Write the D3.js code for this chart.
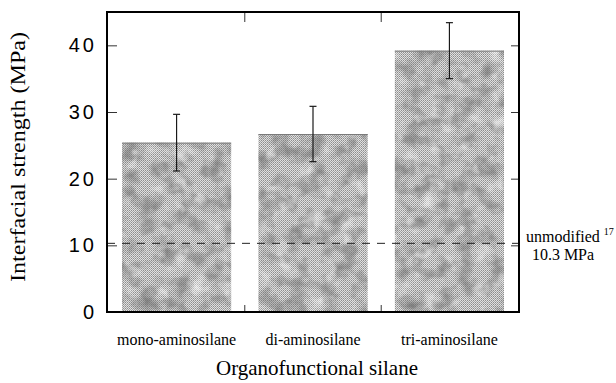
<!DOCTYPE html>
<html>
<head>
<meta charset="utf-8">
<script src="https://cdn.jsdelivr.net/npm/d3@7"></script>
<style>
  body { margin: 0; background: #fff; }
  svg { display: block; }
</style>
</head>
<body>
<div id="chart"></div>
<script>
const categories = ['mono-aminosilane', 'di-aminosilane', 'tri-aminosilane']
const strength = [25.4, 26.7, 39.2]
const errors = [4.25, 4.15, 4.2]
const yTicks = [0, 10, 20, 30, 40]
const reference = 10.3
const referenceLabel = ['unmodified', '17', '10.3 MPa']

const W = 616
const H = 383
const margin = { top: 12, right: 97, bottom: 71, left: 107 }
const width = W - margin.left - margin.right
const height = H - margin.top - margin.bottom

const svg = d3.select('#chart')
  .append('svg')
    .attr('width', W)
    .attr('height', H)

const defs = svg.append('defs')

// fine halftone dither
const pat = defs.append('pattern')
  .attr('id', 'dither')
  .attr('width', 2)
  .attr('height', 2)
  .attr('patternUnits', 'userSpaceOnUse')
pat.append('rect').attr('width', 2).attr('height', 2).attr('fill', '#e0e0e0')
pat.append('rect').attr('width', 1).attr('height', 1).attr('fill', '#8e8e8e')
pat.append('rect').attr('x', 1).attr('y', 1).attr('width', 1).attr('height', 1).attr('fill', '#a6a6a6')

// blotchy mottling on top of the dither
const filt = defs.append('filter')
  .attr('id', 'mottle')
  .attr('filterUnits', 'userSpaceOnUse')
  .attr('x', 0).attr('y', 0).attr('width', width).attr('height', height)
  .attr('color-interpolation-filters', 'sRGB')
filt.append('feTurbulence')
  .attr('type', 'fractalNoise')
  .attr('baseFrequency', 0.06)
  .attr('numOctaves', 3)
  .attr('seed', 11)
  .attr('result', 'noise')
filt.append('feColorMatrix')
  .attr('in', 'noise')
  .attr('type', 'matrix')
  .attr('values', '0 0 0 0 0.45  0 0 0 0 0.45  0 0 0 0 0.45  1.7 0 0 0 -0.72')
  .attr('result', 'dark')
filt.append('feColorMatrix')
  .attr('in', 'noise')
  .attr('type', 'matrix')
  .attr('values', '0 0 0 0 1  0 0 0 0 1  0 0 0 0 1  0 -1.7 0 0 0.7')
  .attr('result', 'light')
filt.append('feMerge')
  .call(m => {
    m.append('feMergeNode').attr('in', 'dark')
    m.append('feMergeNode').attr('in', 'light')
  })
  .attr('result', 'both')
filt.append('feComposite')
  .attr('in', 'both')
  .attr('in2', 'SourceAlpha')
  .attr('operator', 'in')

const g = svg.append('g')
  .attr('transform', `translate(${margin.left},${margin.top})`)

const x = d3.scaleBand()
  .domain(categories)
  .range([0, width])
  .paddingInner(0.2)
  .paddingOuter(0.11)

const y = d3.scaleLinear()
  .domain([0, 45])
  .range([height, 0])

// bars
const bars = g.append('g')
bars.selectAll('rect.bar')
  .data(categories)
  .join('rect')
    .attr('class', 'bar')
    .attr('x', d => x(d))
    .attr('y', (d, i) => y(strength[i]))
    .attr('width', x.bandwidth())
    .attr('height', (d, i) => y(0) - y(strength[i]))
    .attr('fill', 'url(#dither)')
const mottle = bars.append('g').attr('filter', 'url(#mottle)')
mottle.selectAll('rect')
  .data(categories)
  .join('rect')
    .attr('x', d => x(d))
    .attr('y', (d, i) => y(strength[i]))
    .attr('width', x.bandwidth())
    .attr('height', (d, i) => y(0) - y(strength[i]))
    .attr('fill', '#000')
bars.selectAll('line.top')
  .data(categories)
  .join('line')
    .attr('class', 'top')
    .attr('x1', d => x(d))
    .attr('x2', d => x(d) + x.bandwidth())
    .attr('y1', (d, i) => y(strength[i]) + 0.5)
    .attr('y2', (d, i) => y(strength[i]) + 0.5)
    .attr('stroke', '#7a7a7a')
    .attr('stroke-width', 1)

// reference dashed line
g.append('line')
  .attr('x1', 0)
  .attr('x2', width)
  .attr('y1', y(reference))
  .attr('y2', y(reference))
  .attr('stroke', '#222')
  .attr('stroke-width', 1)
  .attr('stroke-dasharray', '8,7')

// error bars
const cx = d => x(d) + x.bandwidth() / 2
const eb = g.append('g').attr('stroke', '#1a1a1a').attr('stroke-width', 1.2)
categories.forEach((c, i) => {
  const hi = y(strength[i] + errors[i])
  const lo = y(strength[i] - errors[i])
  eb.append('line').attr('x1', cx(c)).attr('x2', cx(c)).attr('y1', hi).attr('y2', lo)
  eb.append('line').attr('x1', cx(c) - 3.5).attr('x2', cx(c) + 3.5).attr('y1', hi).attr('y2', hi)
  eb.append('line').attr('x1', cx(c) - 3.5).attr('x2', cx(c) + 3.5).attr('y1', lo).attr('y2', lo)
})

// axes with inward ticks
const yLeft = g.append('g')
  .call(d3.axisLeft(y).tickValues(yTicks).tickSize(-10).tickPadding(10).tickFormat(d3.format('d')))
yLeft.select('.domain').remove()
yLeft.selectAll('line').attr('stroke', '#333')
yLeft.selectAll('text')
  .attr('font-family', 'Liberation Sans, Arial, sans-serif')
  .attr('font-size', 20)
  .attr('letter-spacing', 3)
  .attr('fill', '#000')

const yRight = g.append('g')
  .attr('transform', `translate(${width},0)`)
  .call(d3.axisRight(y).tickValues(yTicks.filter(v => v > 0)).tickSize(-8).tickFormat(''))
yRight.select('.domain').remove()
yRight.selectAll('line').attr('stroke', '#333')

const between = categories.slice(0, -1).map(c => x(c) + x.step() - (x.step() - x.bandwidth()) / 2)
between.forEach(bx => {
  g.append('line').attr('x1', bx).attr('x2', bx).attr('y1', 0).attr('y2', 10)
    .attr('stroke', '#333').attr('stroke-width', 1)
  g.append('line').attr('x1', bx).attr('x2', bx).attr('y1', height).attr('y2', height - 7)
    .attr('stroke', '#333').attr('stroke-width', 1)
})

// frame
g.append('rect')
  .attr('width', width)
  .attr('height', height)
  .attr('fill', 'none')
  .attr('stroke', '#000')
  .attr('stroke-width', 2)

// category labels
g.append('g')
  .selectAll('text')
  .data(categories)
  .join('text')
    .attr('x', cx)
    .attr('y', height + 33)
    .attr('text-anchor', 'middle')
    .attr('font-family', 'Liberation Serif, Times New Roman, serif')
    .attr('font-size', 16)
    .text(d => d)

// axis titles
svg.append('text')
  .attr('x', margin.left + width / 2 + 4)
  .attr('y', 375)
  .attr('text-anchor', 'middle')
  .attr('font-family', 'Liberation Serif, Times New Roman, serif')
  .attr('font-size', 21)
  .text('Organofunctional silane')

svg.append('text')
  .attr('transform', `translate(25,${157}) rotate(-90)`)
  .attr('text-anchor', 'middle')
  .attr('font-family', 'Liberation Serif, Times New Roman, serif')
  .attr('font-size', 21)
  .attr('textLength', 250)
  .attr('lengthAdjust', 'spacingAndGlyphs')
  .text('Interfacial strength (MPa)')

// reference annotation
const ann = svg.append('text')
  .attr('x', margin.left + width + 7)
  .attr('y', margin.top + y(reference) - 1)
  .attr('font-family', 'Liberation Serif, Times New Roman, serif')
  .attr('font-size', 16)
ann.append('tspan').text(referenceLabel[0])
ann.append('tspan').attr('dx', 4).attr('dy', -7).attr('font-size', 10).text(referenceLabel[1])

svg.append('text')
  .attr('x', 563)
  .attr('y', margin.top + y(reference) + 17)
  .attr('text-anchor', 'middle')
  .attr('font-family', 'Liberation Serif, Times New Roman, serif')
  .attr('font-size', 16)
  .text(referenceLabel[2])
</script>
</body>
</html>
